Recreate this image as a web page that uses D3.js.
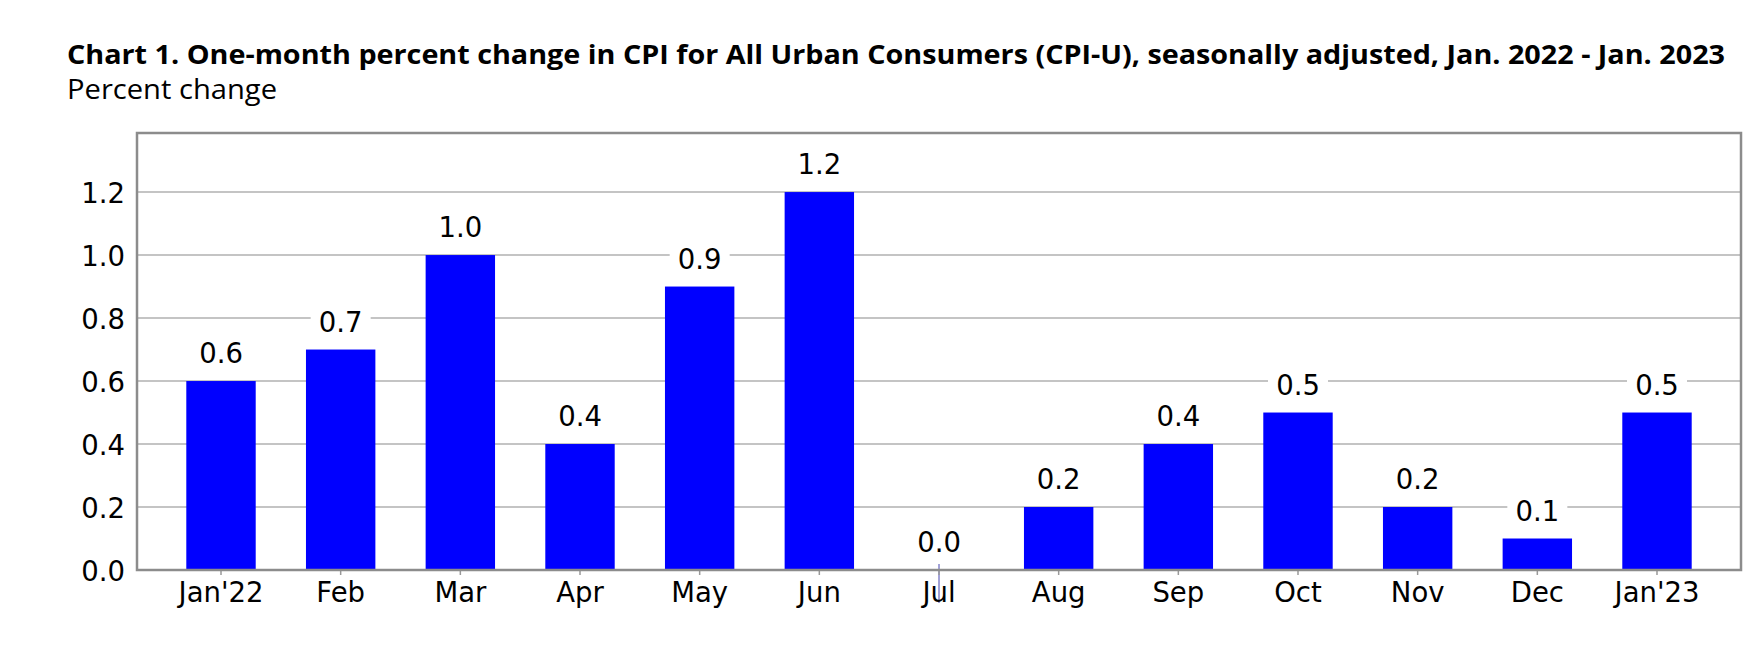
<!DOCTYPE html>
<html>
<head>
<meta charset="utf-8">
<script src="https://cdn.jsdelivr.net/npm/d3@7"></script>
<style>
  body { margin: 0; background: #fff; }
  svg { display: block; }
</style>
</head>
<body>
<div id="chart"></div>
<script>
// CPI-U one-month percent change
const months = ["Jan'22", "Feb", "Mar", "Apr", "May", "Jun", "Jul", "Aug", "Sep", "Oct", "Nov", "Dec", "Jan'23"];
const pctChange = [0.6, 0.7, 1.0, 0.4, 0.9, 1.2, 0.0, 0.2, 0.4, 0.5, 0.2, 0.1, 0.5];
const yTicks = [0, 0.2, 0.4, 0.6, 0.8, 1.0, 1.2];

const titleText = "Chart 1. One-month percent change in CPI for All Urban Consumers (CPI-U), seasonally adjusted, Jan. 2022 - Jan. 2023";
const subtitleText = "Percent change";

const width = 1760;
const height = 651;
const plot = {left: 137, right: 1741, top: 133, bottom: 570};
const labelFont = "'DejaVu Sans', sans-serif";
const labelSize = 27.5;

const svg = d3.select('#chart')
    .append('svg')
    .attr('width', width)
    .attr('height', height);

svg.append('rect').attr('width', width).attr('height', height).attr('fill', '#fff');

// titles
svg.append('text')
    .attr('x', 67).attr('y', 64)
    .attr('font-family', "'Open Sans', 'Noto Sans', sans-serif")
    .attr('font-weight', 'bold')
    .attr('font-size', 27)
    .attr('textLength', 1658)
    .attr('lengthAdjust', 'spacingAndGlyphs')
    .text(titleText);

svg.append('text')
    .attr('x', 67).attr('y', 99)
    .attr('font-family', "'Open Sans', 'Noto Sans', sans-serif")
    .attr('font-size', 27)
    .attr('textLength', 210)
    .attr('lengthAdjust', 'spacingAndGlyphs')
    .text(subtitleText);

const x = d3.scaleBand()
    .domain(months)
    .range([plot.left, plot.right])
    .paddingInner(0.42)
    .paddingOuter(0.412);

const y = d3.scaleLinear()
    .domain([0, 1.3875])
    .range([plot.bottom, plot.top]);

// gridlines
svg.append('g')
    .selectAll('line')
    .data(yTicks.filter(d => d > 0))
    .enter()
    .append('line')
    .attr('x1', plot.left).attr('x2', plot.right)
    .attr('y1', d => y(d)).attr('y2', d => y(d))
    .attr('stroke', '#c4c4c4')
    .attr('stroke-width', 2);

// bars
svg.append('g')
    .selectAll('rect')
    .data(months)
    .enter()
    .append('rect')
    .attr('x', d => x(d))
    .attr('y', (d, i) => y(pctChange[i]))
    .attr('width', x.bandwidth())
    .attr('height', (d, i) => y(0) - y(pctChange[i]))
    .attr('fill', '#0000ff');

// zero-value stub line seen at Jul
const julX = x('Jul') + x.bandwidth() / 2;
svg.append('line')
    .attr('x1', julX).attr('x2', julX)
    .attr('y1', y(0) - 6).attr('y2', y(0) + 33)
    .attr('stroke', '#4545b0')
    .attr('stroke-width', 1);

// value labels with white boxes
const valLabels = svg.append('g')
    .selectAll('g')
    .data(months)
    .enter()
    .append('g')
    .attr('transform', (d, i) => `translate(${x(d) + x.bandwidth() / 2},${y(pctChange[i]) - 18})`);

valLabels.append('rect')
    .attr('x', -30).attr('y', -25)
    .attr('width', 60).attr('height', 29)
    .attr('fill', '#fff');

valLabels.append('text')
    .attr('text-anchor', 'middle')
    .attr('font-family', labelFont)
    .attr('font-size', labelSize)
    .attr('fill', '#000')
    .text((d, i) => d3.format('.1f')(pctChange[i]));

// x axis
const xAxis = svg.append('g')
    .attr('transform', `translate(0,${plot.bottom})`)
    .call(d3.axisBottom(x).tickSize(5).tickSizeOuter(0));
xAxis.select('.domain').remove();
xAxis.selectAll('line').attr('stroke', '#999').attr('stroke-width', 1.5);
xAxis.selectAll('text')
    .attr('dy', null)
    .attr('y', 32)
    .attr('font-family', labelFont)
    .attr('font-size', labelSize)
    .attr('fill', '#000');

// y axis
const yAxis = svg.append('g')
    .attr('transform', `translate(${plot.left},0)`)
    .call(d3.axisLeft(y).tickValues(yTicks).tickFormat(d3.format('.1f')).tickSize(0).tickPadding(12));
yAxis.select('.domain').remove();
yAxis.selectAll('text')
    .attr('dy', '0.37em')
    .attr('font-family', labelFont)
    .attr('font-size', labelSize)
    .attr('fill', '#000');

// plot frame
svg.append('rect')
    .attr('x', plot.left).attr('y', plot.top)
    .attr('width', plot.right - plot.left)
    .attr('height', plot.bottom - plot.top)
    .attr('fill', 'none')
    .attr('stroke', '#8c8c8c')
    .attr('stroke-width', 2.5);
</script>
</body>
</html>
